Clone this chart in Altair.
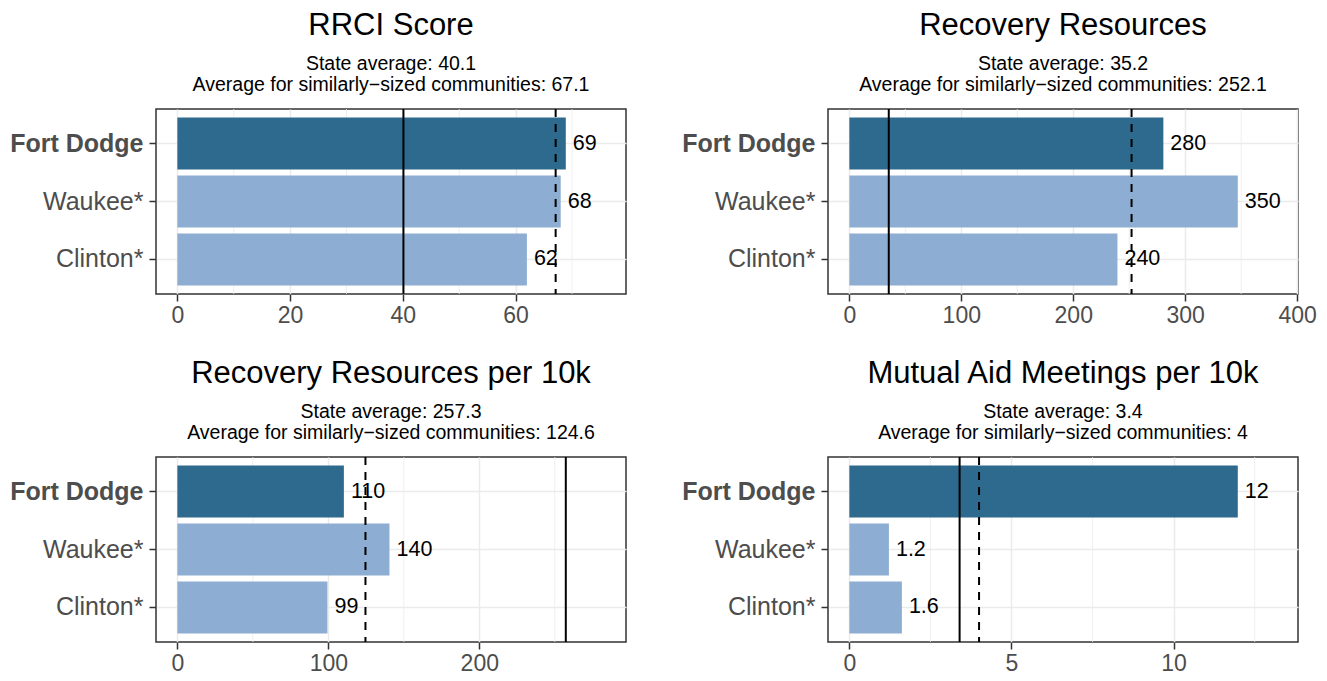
import altair as alt
import pandas as pd

# ---- data ----
communities = ["Fort Dodge", "Waukee*", "Clinton*"]
focus = ["yes", "no", "no"]

panel_titles = ["RRCI Score", "Recovery Resources",
                "Recovery Resources per 10k", "Mutual Aid Meetings per 10k"]
state_avgs = [40.1, 35.2, 257.3, 3.4]
similar_avgs = [67.1, 252.1, 124.6, 4.0]

rrci_values = [68.9, 68.0, 62.0]
rrci_labels = ["69", "68", "62"]
resources_values = [280.5, 347.0, 239.5]
resources_labels = ["280", "350", "240"]
per10k_values = [110.3, 140.5, 99.4]
per10k_labels = ["110", "140", "99"]
meetings_values = [11.98, 1.22, 1.62]
meetings_labels = ["12", "1.2", "1.6"]

rrci_ticks = [0, 20, 40, 60]
rrci_minor = [10, 30, 50, 70]
resources_ticks = [0, 100, 200, 300, 400]
resources_minor = [50, 150, 250, 350]
per10k_ticks = [0, 100, 200]
per10k_minor = [50, 150, 250]
meetings_ticks = [0, 5, 10]
meetings_minor = [2.5, 7.5, 12.5]

all_values = [rrci_values, resources_values, per10k_values, meetings_values]
all_labels = [rrci_labels, resources_labels, per10k_labels, meetings_labels]
all_ticks = [rrci_ticks, resources_ticks, per10k_ticks, meetings_ticks]
all_minor = [rrci_minor, resources_minor, per10k_minor, meetings_minor]

DARK = "#2E6A8E"
LIGHT = "#8DAED2"
FONT = "Liberation Sans"


def fmt(v):
    return f"{v:g}"


def panel(i):
    vals = all_values[i]
    df = pd.DataFrame({"community": communities, "value": vals,
                       "label": all_labels[i], "focus": focus})
    hi = max(vals + [state_avgs[i], similar_avgs[i]]) * 1.1
    xscale = alt.Scale(domain=[-0.05 * hi, 1.05 * hi], nice=False, zero=False)
    yenc = alt.Y("community:N", sort=communities, title=None,
                 scale=alt.Scale(paddingInner=0.1, paddingOuter=0.145),
                 axis=alt.Axis(labelFontSize=25, labelColor="#4D4D4D", labelFont=FONT,
                               labelFontWeight={"expr": "datum.value == 'Fort Dodge' ? 'bold' : 'normal'"},
                               tickColor="#333333", tickSize=7, tickWidth=1.5,
                               labelPadding=6, domain=False, grid=True,
                               gridColor="#EBEBEB", gridWidth=1.5, bandPosition=0.5))
    xaxis = alt.Axis(values=all_ticks[i], title=None, labelFontSize=23,
                     labelColor="#4D4D4D", labelFont=FONT, tickColor="#333333",
                     tickSize=7, tickWidth=1.5, labelPadding=3, domain=False,
                     grid=True, gridColor="#EBEBEB", gridWidth=1.5, labelFlush=False)

    minor = alt.Chart(pd.DataFrame({"m": all_minor[i]})).mark_rule(
        color="#EBEBEB", strokeWidth=0.8).encode(x=alt.X("m:Q", scale=xscale, axis=xaxis))
    bars = alt.Chart(df).mark_bar().encode(
        x=alt.X("value:Q", scale=xscale, axis=xaxis),
        y=yenc,
        color=alt.Color("focus:N", scale=alt.Scale(domain=["yes", "no"], range=[DARK, LIGHT]),
                        legend=None),
    )
    text = alt.Chart(df).mark_text(align="left", baseline="middle", dx=7, fontSize=21.5,
                                   font=FONT, color="black").encode(
        x=alt.X("value:Q", scale=xscale), y=alt.Y("community:N", sort=communities), text="label:N")
    state = alt.Chart(pd.DataFrame({"s": [state_avgs[i]]})).mark_rule(
        color="black", strokeWidth=2).encode(x=alt.X("s:Q", scale=xscale))
    similar = alt.Chart(pd.DataFrame({"s": [similar_avgs[i]]})).mark_rule(
        color="black", strokeWidth=2, strokeDash=[8, 7]).encode(x=alt.X("s:Q", scale=xscale))

    title = alt.TitleParams(
        text=panel_titles[i],
        subtitle=[f"State average: {fmt(state_avgs[i])}",
                  f"Average for similarly\u2212sized communities: {fmt(similar_avgs[i])}"],
        fontSize=31, font=FONT, fontWeight="normal", color="black",
        subtitleFontSize=19.5, subtitleFont=FONT, subtitleColor="black",
        subtitleLineHeight=21, subtitlePadding=13, anchor="middle", frame="group", offset=13)

    return alt.layer(minor, bars, text, state, similar).properties(
        width=470, height=185, title=title)


chart = alt.vconcat(
    alt.hconcat(panel(0), panel(1), spacing=53),
    alt.hconcat(panel(2), panel(3), spacing=53),
    spacing=28,
).properties(
    padding={"left": 0, "top": 0, "right": 0, "bottom": 0}, background="white"
).configure_view(
    stroke="#333333", strokeWidth=1.5
)

chart.save("out.html", embed_options={"renderer": "svg", "actions": False})
